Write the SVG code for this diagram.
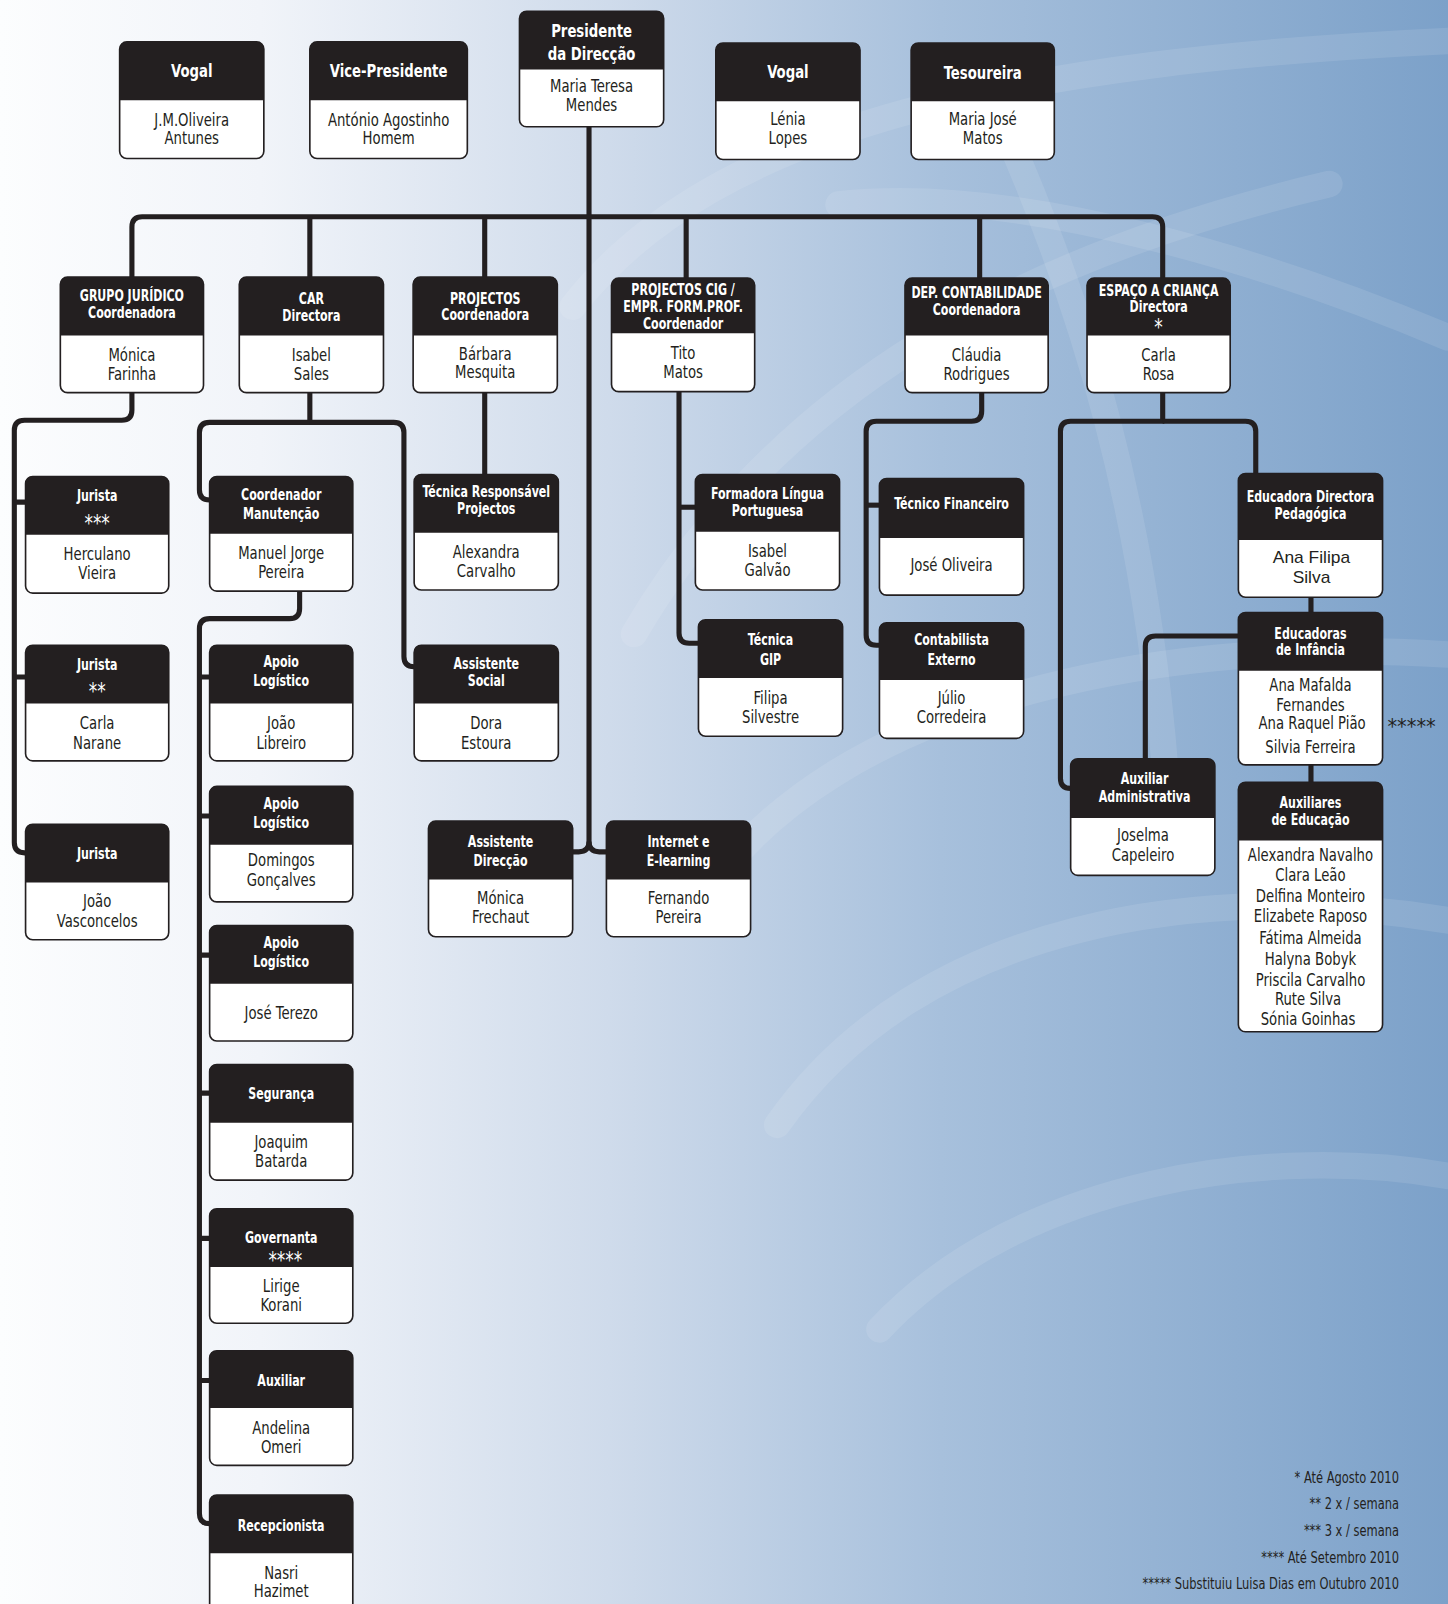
<svg xmlns="http://www.w3.org/2000/svg" width="1448" height="1604" viewBox="0 0 1448 1604">
<defs>
<linearGradient id="bg" x1="0" y1="0" x2="1" y2="0">
<stop offset="0" stop-color="#fcfdfe"/>
<stop offset="0.18" stop-color="#f1f4f9"/>
<stop offset="0.42" stop-color="#cfdbeb"/>
<stop offset="0.65" stop-color="#a7c0dc"/>
<stop offset="1" stop-color="#7ca1c9"/>
</linearGradient>
<style>
.bx{fill:#fff;stroke:#231f20;stroke-width:1.6}
.hd{fill:#231f20}
.ht{font-family:"DejaVu Sans Condensed","Liberation Sans Narrow","Liberation Sans",sans-serif;font-stretch:condensed;font-weight:bold;font-size:15px;fill:#fff;text-anchor:middle}
.ht1{font-size:18px}
.st{font-family:"DejaVu Sans Condensed","Liberation Sans",sans-serif;font-size:23px;fill:#fff;text-anchor:middle}
.nm{font-family:"DejaVu Sans Condensed","Liberation Sans Narrow","Liberation Sans",sans-serif;font-stretch:condensed;font-size:18px;fill:#231f20;text-anchor:middle}
.nw{font-family:"Liberation Sans",Arial,sans-serif;font-size:17px;fill:#231f20;text-anchor:middle}
.fn{font-family:"DejaVu Sans Condensed","Liberation Sans Narrow","Liberation Sans",sans-serif;font-stretch:condensed;font-size:15px;fill:#231f20;text-anchor:end}
.cn{fill:none;stroke:#231f20;stroke-width:5;stroke-linejoin:round}
.sw{fill:none;stroke:#ffffff;stroke-opacity:0.1;stroke-width:26;stroke-linecap:round}
</style>
</defs>
<rect x="0" y="0" width="1448" height="1604" fill="url(#bg)"/>
<g transform="scale(1.0226)">
<g id="swirls">
<path class="sw" d="M560,300 C700,120 1000,60 1416,40"/>
<path class="sw" d="M820,200 C1000,180 1250,260 1416,330"/>
<path class="sw" d="M620,620 C760,380 1000,250 1300,180"/>
<path class="sw" d="M700,860 C820,700 1100,620 1416,640"/>
<path class="sw" d="M980,120 C1060,300 1120,500 1140,760"/>
<path class="sw" d="M760,1100 C900,900 1180,860 1416,900"/>
<path class="sw" d="M860,1300 C1000,1150 1250,1120 1416,1150"/>
</g>
<g id="connectors">
<path class="cn" d="M576,124 V823 Q576,833 566,833 H560"/>
<path class="cn" d="M576,823 Q576,833 586,833 H593"/>
<path class="cn" d="M129,271 V222 Q129,212 139,212 H1127 Q1137,212 1137,222 V272"/>
<path class="cn" d="M303,212 V271 M474,212 V271 M671,212 V272 M958,212 V272"/>
<path class="cn" d="M129,384 V401 Q129,411 119,411 H24 Q14,411 14,421 V824 Q14,834 24,834 H25"/>
<path class="cn" d="M14,491 H25 M14,662 H25"/>
<path class="cn" d="M303,384 V413 H205 Q195,413 195,423 V479 Q195,489 205,489"/>
<path class="cn" d="M303,413 H385 Q395,413 395,423 V642 Q395,652 405,652"/>
<path class="cn" d="M293,578 V595 Q293,605 283,605 H205 Q195,605 195,615 V1480 Q195,1490 205,1490"/>
<path class="cn" d="M195,662 H205 M195,798 H205 M195,934 H205 M195,1069 H205 M195,1211 H205 M195,1350 H205"/>
<path class="cn" d="M474,384 V464"/>
<path class="cn" d="M664,383 V619 Q664,629 674,629 H683"/>
<path class="cn" d="M664,496 H680"/>
<path class="cn" d="M960,384 V402 Q960,412 950,412 H857 Q847,412 847,422 V621 Q847,631 857,631 H860"/>
<path class="cn" d="M847,494 H860"/>
<path class="cn" d="M1137,384 V412 H1047 Q1037,412 1037,422 V761 Q1037,771 1047,771"/>
<path class="cn" d="M1137,412 H1218 Q1228,412 1228,422 V463"/>
<path class="cn" d="M1282,584 V599 M1282,748 V765"/>
<path class="cn" d="M1211,622 H1130 Q1120,622 1120,632 V742"/>
</g>
<g id="n-vogal1"><rect class="bx" x="117" y="41" width="141" height="114" rx="7"/><path class="hd" d="M117,98 V48 Q117,41 124,41 H251 Q258,41 258,48 V98 Z"/><g transform="matrix(0.8 0 0 1 37.5 0)"><text class="ht ht1" x="187.5" y="75">Vogal</text><text class="nm" x="187.5" y="123">J.M.Oliveira</text><text class="nm" x="187.5" y="141">Antunes</text></g></g>
<g id="n-vicepresidente"><rect class="bx" x="303" y="41" width="154" height="114" rx="7"/><path class="hd" d="M303,98 V48 Q303,41 310,41 H450 Q457,41 457,48 V98 Z"/><g transform="matrix(0.8 0 0 1 76 0)"><text class="ht ht1" x="380" y="75">Vice-Presidente</text><text class="nm" x="380" y="123">António Agostinho</text><text class="nm" x="380" y="141">Homem</text></g></g>
<g id="n-presidente"><rect class="bx" x="508" y="11" width="141" height="113" rx="7"/><path class="hd" d="M508,68 V18 Q508,11 515,11 H642 Q649,11 649,18 V68 Z"/><g transform="matrix(0.8 0 0 1 115.7 0)"><text class="ht ht1" x="578.5" y="36">Presidente</text><text class="ht ht1" x="578.5" y="59">da Direcção</text><text class="nm" x="578.5" y="90">Maria Teresa</text><text class="nm" x="578.5" y="109">Mendes</text></g></g>
<g id="n-vogal2"><rect class="bx" x="700" y="42" width="141" height="114" rx="7"/><path class="hd" d="M700,99 V49 Q700,42 707,42 H834 Q841,42 841,49 V99 Z"/><g transform="matrix(0.8 0 0 1 154.1 0)"><text class="ht ht1" x="770.5" y="76">Vogal</text><text class="nm" x="770.5" y="122">Lénia</text><text class="nm" x="770.5" y="141">Lopes</text></g></g>
<g id="n-tesoureira"><rect class="bx" x="891" y="42" width="140" height="114" rx="7"/><path class="hd" d="M891,99 V49 Q891,42 898,42 H1024 Q1031,42 1031,49 V99 Z"/><g transform="matrix(0.8 0 0 1 192.2 0)"><text class="ht ht1" x="961" y="77">Tesoureira</text><text class="nm" x="961" y="122">Maria José</text><text class="nm" x="961" y="141">Matos</text></g></g>
<g id="n-juridico"><rect class="bx" x="59" y="271" width="140" height="113" rx="7"/><path class="hd" d="M59,328 V278 Q59,271 66,271 H192 Q199,271 199,278 V328 Z"/><g transform="matrix(0.8 0 0 1 25.8 0)"><text class="ht" x="129" y="294">GRUPO JURÍDICO</text><text class="ht" x="129" y="311">Coordenadora</text><text class="nm" x="129" y="353">Mónica</text><text class="nm" x="129" y="372">Farinha</text></g></g>
<g id="n-car"><rect class="bx" x="234" y="271" width="141" height="113" rx="7"/><path class="hd" d="M234,328 V278 Q234,271 241,271 H368 Q375,271 375,278 V328 Z"/><g transform="matrix(0.8 0 0 1 60.9 0)"><text class="ht" x="304.5" y="297">CAR</text><text class="ht" x="304.5" y="314">Directora</text><text class="nm" x="304.5" y="353">Isabel</text><text class="nm" x="304.5" y="372">Sales</text></g></g>
<g id="n-projectos"><rect class="bx" x="404" y="271" width="141" height="113" rx="7"/><path class="hd" d="M404,328 V278 Q404,271 411,271 H538 Q545,271 545,278 V328 Z"/><g transform="matrix(0.8 0 0 1 94.9 0)"><text class="ht" x="474.5" y="297">PROJECTOS</text><text class="ht" x="474.5" y="313">Coordenadora</text><text class="nm" x="474.5" y="352">Bárbara</text><text class="nm" x="474.5" y="370">Mesquita</text></g></g>
<g id="n-cig"><rect class="bx" x="598" y="272" width="140" height="111" rx="7"/><path class="hd" d="M598,326 V279 Q598,272 605,272 H731 Q738,272 738,279 V326 Z"/><g transform="matrix(0.8 0 0 1 133.6 0)"><text class="ht" x="668" y="288">PROJECTOS CIG /</text><text class="ht" x="668" y="305">EMPR. FORM.PROF.</text><text class="ht" x="668" y="322">Coordenador</text><text class="nm" x="668" y="351">Tito</text><text class="nm" x="668" y="370">Matos</text></g></g>
<g id="n-contabilidade"><rect class="bx" x="885" y="272" width="140" height="112" rx="7"/><path class="hd" d="M885,328 V279 Q885,272 892,272 H1018 Q1025,272 1025,279 V328 Z"/><g transform="matrix(0.8 0 0 1 191 0)"><text class="ht" x="955" y="291">DEP. CONTABILIDADE</text><text class="ht" x="955" y="308">Coordenadora</text><text class="nm" x="955" y="353">Cláudia</text><text class="nm" x="955" y="372">Rodrigues</text></g></g>
<g id="n-espaco"><rect class="bx" x="1063" y="272" width="140" height="112" rx="7"/><path class="hd" d="M1063,328 V279 Q1063,272 1070,272 H1196 Q1203,272 1203,279 V328 Z"/><g transform="matrix(0.8 0 0 1 226.6 0)"><text class="ht" x="1133" y="289">ESPAÇO A CRIANÇA</text><text class="ht" x="1133" y="305">Directora</text><text class="st" x="1133" y="328">*</text><text class="nm" x="1133" y="353">Carla</text><text class="nm" x="1133" y="372">Rosa</text></g></g>
<g id="n-jurista1"><rect class="bx" x="25" y="466" width="140" height="114" rx="7"/><path class="hd" d="M25,523 V473 Q25,466 32,466 H158 Q165,466 165,473 V523 Z"/><g transform="matrix(0.8 0 0 1 19 0)"><text class="ht" x="95" y="490">Jurista</text><text class="st" x="95" y="519">***</text><text class="nm" x="95" y="548">Herculano</text><text class="nm" x="95" y="566">Vieira</text></g></g>
<g id="n-jurista2"><rect class="bx" x="25" y="631" width="140" height="113" rx="7"/><path class="hd" d="M25,688 V638 Q25,631 32,631 H158 Q165,631 165,638 V688 Z"/><g transform="matrix(0.8 0 0 1 19 0)"><text class="ht" x="95" y="655">Jurista</text><text class="st" x="95" y="684">**</text><text class="nm" x="95" y="713">Carla</text><text class="nm" x="95" y="732">Narane</text></g></g>
<g id="n-jurista3"><rect class="bx" x="25" y="806" width="140" height="113" rx="7"/><path class="hd" d="M25,863 V813 Q25,806 32,806 H158 Q165,806 165,813 V863 Z"/><g transform="matrix(0.8 0 0 1 19 0)"><text class="ht" x="95" y="840">Jurista</text><text class="nm" x="95" y="887">João</text><text class="nm" x="95" y="907">Vasconcelos</text></g></g>
<g id="n-coordmanut"><rect class="bx" x="205" y="466" width="140" height="112" rx="7"/><path class="hd" d="M205,522 V473 Q205,466 212,466 H338 Q345,466 345,473 V522 Z"/><g transform="matrix(0.8 0 0 1 55 0)"><text class="ht" x="275" y="489">Coordenador</text><text class="ht" x="275" y="508">Manutenção</text><text class="nm" x="275" y="547">Manuel Jorge</text><text class="nm" x="275" y="565">Pereira</text></g></g>
<g id="n-apoio1"><rect class="bx" x="205" y="631" width="140" height="113" rx="7"/><path class="hd" d="M205,688 V638 Q205,631 212,631 H338 Q345,631 345,638 V688 Z"/><g transform="matrix(0.8 0 0 1 55 0)"><text class="ht" x="275" y="652">Apoio</text><text class="ht" x="275" y="671">Logístico</text><text class="nm" x="275" y="713">João</text><text class="nm" x="275" y="732">Libreiro</text></g></g>
<g id="n-apoio2"><rect class="bx" x="205" y="769" width="140" height="113" rx="7"/><path class="hd" d="M205,826 V776 Q205,769 212,769 H338 Q345,769 345,776 V826 Z"/><g transform="matrix(0.8 0 0 1 55 0)"><text class="ht" x="275" y="791">Apoio</text><text class="ht" x="275" y="810">Logístico</text><text class="nm" x="275" y="847">Domingos</text><text class="nm" x="275" y="866">Gonçalves</text></g></g>
<g id="n-apoio3"><rect class="bx" x="205" y="905" width="140" height="113" rx="7"/><path class="hd" d="M205,962 V912 Q205,905 212,905 H338 Q345,905 345,912 V962 Z"/><g transform="matrix(0.8 0 0 1 55 0)"><text class="ht" x="275" y="927">Apoio</text><text class="ht" x="275" y="946">Logístico</text><text class="nm" x="275" y="996">José Terezo</text></g></g>
<g id="n-seguranca"><rect class="bx" x="205" y="1041" width="140" height="113" rx="7"/><path class="hd" d="M205,1098 V1048 Q205,1041 212,1041 H338 Q345,1041 345,1048 V1098 Z"/><g transform="matrix(0.8 0 0 1 55 0)"><text class="ht" x="275" y="1075">Segurança</text><text class="nm" x="275" y="1123">Joaquim</text><text class="nm" x="275" y="1141">Batarda</text></g></g>
<g id="n-governanta"><rect class="bx" x="205" y="1182" width="140" height="112" rx="7"/><path class="hd" d="M205,1239 V1189 Q205,1182 212,1182 H338 Q345,1182 345,1189 V1239 Z"/><g transform="matrix(0.8 0 0 1 55 0)"><text class="ht" x="275" y="1216">Governanta</text><text class="st" x="280" y="1240">****</text><text class="nm" x="275" y="1263">Lirige</text><text class="nm" x="275" y="1282">Korani</text></g></g>
<g id="n-auxiliar"><rect class="bx" x="205" y="1321" width="140" height="112" rx="7"/><path class="hd" d="M205,1377 V1328 Q205,1321 212,1321 H338 Q345,1321 345,1328 V1377 Z"/><g transform="matrix(0.8 0 0 1 55 0)"><text class="ht" x="275" y="1355">Auxiliar</text><text class="nm" x="275" y="1402">Andelina</text><text class="nm" x="275" y="1421">Omeri</text></g></g>
<g id="n-recepcionista"><rect class="bx" x="205" y="1462" width="140" height="120" rx="7"/><path class="hd" d="M205,1519 V1469 Q205,1462 212,1462 H338 Q345,1462 345,1469 V1519 Z"/><g transform="matrix(0.8 0 0 1 55 0)"><text class="ht" x="275" y="1497">Recepcionista</text><text class="nm" x="275" y="1544">Nasri</text><text class="nm" x="275" y="1562">Hazimet</text></g></g>
<g id="n-tecresp"><rect class="bx" x="405" y="464" width="141" height="113" rx="7"/><path class="hd" d="M405,521 V471 Q405,464 412,464 H539 Q546,464 546,471 V521 Z"/><g transform="matrix(0.8 0 0 1 95.1 0)"><text class="ht" x="475.5" y="486">Técnica Responsável</text><text class="ht" x="475.5" y="503">Projectos</text><text class="nm" x="475.5" y="546">Alexandra</text><text class="nm" x="475.5" y="564">Carvalho</text></g></g>
<g id="n-asssocial"><rect class="bx" x="405" y="631" width="141" height="113" rx="7"/><path class="hd" d="M405,688 V638 Q405,631 412,631 H539 Q546,631 546,638 V688 Z"/><g transform="matrix(0.8 0 0 1 95.1 0)"><text class="ht" x="475.5" y="654">Assistente</text><text class="ht" x="475.5" y="671">Social</text><text class="nm" x="475.5" y="713">Dora</text><text class="nm" x="475.5" y="732">Estoura</text></g></g>
<g id="n-assdireccao"><rect class="bx" x="419" y="803" width="141" height="113" rx="7"/><path class="hd" d="M419,860 V810 Q419,803 426,803 H553 Q560,803 560,810 V860 Z"/><g transform="matrix(0.8 0 0 1 97.9 0)"><text class="ht" x="489.5" y="828">Assistente</text><text class="ht" x="489.5" y="847">Direcção</text><text class="nm" x="489.5" y="884">Mónica</text><text class="nm" x="489.5" y="903">Frechaut</text></g></g>
<g id="n-internet"><rect class="bx" x="593" y="803" width="141" height="113" rx="7"/><path class="hd" d="M593,860 V810 Q593,803 600,803 H727 Q734,803 734,810 V860 Z"/><g transform="matrix(0.8 0 0 1 132.7 0)"><text class="ht" x="663.5" y="828">Internet e</text><text class="ht" x="663.5" y="847">E-learning</text><text class="nm" x="663.5" y="884">Fernando</text><text class="nm" x="663.5" y="903">Pereira</text></g></g>
<g id="n-formadora"><rect class="bx" x="680" y="464" width="141" height="113" rx="7"/><path class="hd" d="M680,520 V471 Q680,464 687,464 H814 Q821,464 821,471 V520 Z"/><g transform="matrix(0.8 0 0 1 150.1 0)"><text class="ht" x="750.5" y="488">Formadora Língua</text><text class="ht" x="750.5" y="505">Portuguesa</text><text class="nm" x="750.5" y="545">Isabel</text><text class="nm" x="750.5" y="563">Galvão</text></g></g>
<g id="n-gip"><rect class="bx" x="683" y="606" width="141" height="114" rx="7"/><path class="hd" d="M683,663 V613 Q683,606 690,606 H817 Q824,606 824,613 V663 Z"/><g transform="matrix(0.8 0 0 1 150.7 0)"><text class="ht" x="753.5" y="631">Técnica</text><text class="ht" x="753.5" y="650">GIP</text><text class="nm" x="753.5" y="688">Filipa</text><text class="nm" x="753.5" y="707">Silvestre</text></g></g>
<g id="n-tecfin"><rect class="bx" x="860" y="468" width="141" height="114" rx="7"/><path class="hd" d="M860,526 V475 Q860,468 867,468 H994 Q1001,468 1001,475 V526 Z"/><g transform="matrix(0.8 0 0 1 186.1 0)"><text class="ht" x="930.5" y="498">Técnico Financeiro</text><text class="nm" x="930.5" y="558">José Oliveira</text></g></g>
<g id="n-contabilista"><rect class="bx" x="860" y="609" width="141" height="113" rx="7"/><path class="hd" d="M860,665 V616 Q860,609 867,609 H994 Q1001,609 1001,616 V665 Z"/><g transform="matrix(0.8 0 0 1 186.1 0)"><text class="ht" x="930.5" y="631">Contabilista</text><text class="ht" x="930.5" y="650">Externo</text><text class="nm" x="930.5" y="688">Júlio</text><text class="nm" x="930.5" y="707">Corredeira</text></g></g>
<g id="n-edudir"><rect class="bx" x="1211" y="463" width="141" height="121" rx="7"/><path class="hd" d="M1211,528 V470 Q1211,463 1218,463 H1345 Q1352,463 1352,470 V528 Z"/><g transform="matrix(0.8 0 0 1 256.3 0)"><text class="ht" x="1281.5" y="491">Educadora Directora</text><text class="ht" x="1281.5" y="508">Pedagógica</text></g><text class="nw" x="1282.5" y="551">Ana Filipa</text><text class="nw" x="1282.5" y="570">Silva</text></g>
<g id="n-eduinf"><rect class="bx" x="1211" y="599" width="141" height="149" rx="7"/><path class="hd" d="M1211,656 V606 Q1211,599 1218,599 H1345 Q1352,599 1352,606 V656 Z"/><g transform="matrix(0.8 0 0 1 256.3 0)"><text class="ht" x="1281.5" y="625">Educadoras</text><text class="ht" x="1281.5" y="641">de Infância</text><text class="nm" x="1281.5" y="676">Ana Mafalda</text><text class="nm" x="1281.5" y="695">Fernandes</text><text class="nm" x="1283.5" y="713">Ana Raquel Pião</text><text class="nm" x="1281.5" y="736">Silvia Ferreira</text></g></g>
<text class="fn" x="1404" y="718" style="font-size:21px">*****</text>
<g id="n-auxedu"><rect class="bx" x="1211" y="765" width="141" height="244" rx="7"/><path class="hd" d="M1211,822 V772 Q1211,765 1218,765 H1345 Q1352,765 1352,772 V822 Z"/><g transform="matrix(0.8 0 0 1 256.3 0)"><text class="ht" x="1281.5" y="790">Auxiliares</text><text class="ht" x="1281.5" y="807">de Educação</text><text class="nm" x="1281.5" y="842">Alexandra Navalho</text><text class="nm" x="1281.5" y="862">Clara Leão</text><text class="nm" x="1281.5" y="882">Delfina Monteiro</text><text class="nm" x="1281.5" y="902">Elizabete Raposo</text><text class="nm" x="1281.5" y="923">Fátima Almeida</text><text class="nm" x="1281.5" y="944">Halyna Bobyk</text><text class="nm" x="1281.5" y="964">Priscila Carvalho</text><text class="nm" x="1278.5" y="983">Rute Silva</text><text class="nm" x="1278.5" y="1002">Sónia Goinhas</text></g></g>
<g id="n-auxadm"><rect class="bx" x="1047" y="742" width="141" height="114" rx="7"/><path class="hd" d="M1047,800 V749 Q1047,742 1054,742 H1181 Q1188,742 1188,749 V800 Z"/><g transform="matrix(0.8 0 0 1 223.7 0)"><text class="ht" x="1119.5" y="767">Auxiliar</text><text class="ht" x="1119.5" y="784">Administrativa</text><text class="nm" x="1117.5" y="822">Joselma</text><text class="nm" x="1117.5" y="842">Capeleiro</text></g></g>
<g id="footnotes" transform="matrix(0.83 0 0 1 232.56 0)">
<text class="fn" x="1368" y="1450">* Até Agosto 2010</text>
<text class="fn" x="1368" y="1476">** 2 x / semana</text>
<text class="fn" x="1368" y="1502">*** 3 x / semana</text>
<text class="fn" x="1368" y="1528">**** Até Setembro 2010</text>
<text class="fn" x="1368" y="1554">***** Substituiu Luisa Dias em Outubro 2010</text>
</g>
</g>
</svg>
